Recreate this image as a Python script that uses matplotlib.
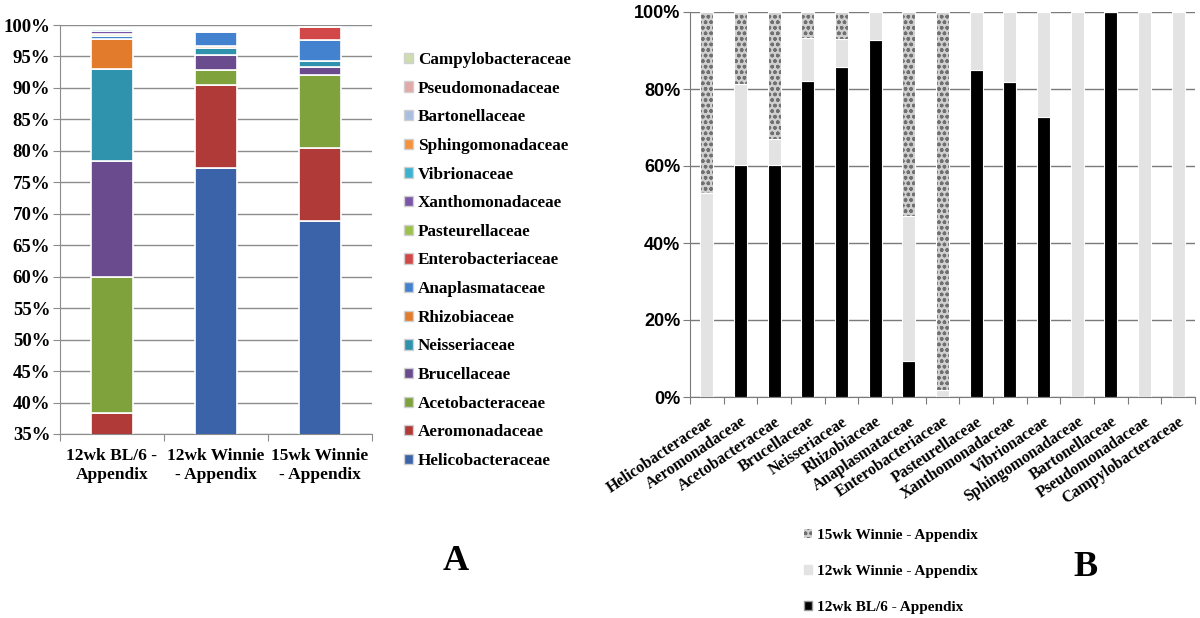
import matplotlib
matplotlib.use("Agg")
import matplotlib.pyplot as plt
import numpy as np
from matplotlib.patches import Patch

# ---------------- Panel A data ----------------
samples = ["12wk BL/6 -\nAppendix", "12wk Winnie\n- Appendix", "15wk Winnie\n- Appendix"]
families = ["Helicobacteraceae", "Aeromonadaceae", "Acetobacteraceae", "Brucellaceae",
            "Neisseriaceae", "Rhizobiaceae", "Anaplasmataceae", "Enterobacteriaceae",
            "Pasteurellaceae", "Xanthomonadaceae", "Vibrionaceae", "Sphingomonadaceae",
            "Bartonellaceae", "Pseudomonadaceae", "Campylobacteraceae"]
family_colors = ["#3A63AA", "#B03A37", "#7FA23C", "#694B8E", "#2F93AE", "#E27B2C",
                 "#4282CF", "#D24848", "#9DC24A", "#7A55A8", "#3BB3D0", "#F5923A",
                 "#A9BFDF", "#E3A8A8", "#CDDDB0"]
# percent abundance per family for each sample (BL/6, 12wk Winnie, 15wk Winnie)
abund_bl6 =    [0.0, 38.4, 21.6, 18.4, 14.6, 4.8, 0.4, 0.0, 0.4, 0.5, 0.2, 0.0, 0.1, 0.0, 0.0]
abund_w12 =    [77.2, 13.3, 2.4, 2.3, 1.1, 0.4, 2.2, 0.1, 0.1, 0.1, 0.1, 0.05, 0.0, 0.05, 0.05]
abund_w15 =    [68.8, 11.7, 11.5, 1.4, 0.9, 0.0, 3.3, 2.1, 0.0, 0.0, 0.0, 0.0, 0.0, 0.0, 0.0]
yticks_a = [35, 40, 45, 50, 55, 60, 65, 70, 75, 80, 85, 90, 95, 100]

# ---------------- Panel B data ----------------
fam_b = ["Helicobacteraceae", "Aeromonadaceae", "Acetobacteraceae", "Brucellaceae",
         "Neisseriaceae", "Rhizobiaceae", "Anaplasmataceae", "Enterobacteriaceae",
         "Pasteurellaceae", "Xanthomonadaceae", "Vibrionaceae", "Sphingomonadaceae",
         "Bartonellaceae", "Pseudomonadaceae", "Campylobacteraceae"]
share_bl6 = [0.0, 60.3, 60.3, 82.1, 85.7, 92.6, 9.4, 0.0, 85.0, 81.8, 72.6, 0.0, 100.0, 0.0, 0.0]
share_w12 = [53.0, 20.9, 6.8, 11.2, 7.4, 7.4, 37.7, 1.7, 15.0, 18.2, 27.4, 100.0, 0.0, 100.0, 100.0]
share_w15 = [47.0, 18.8, 32.9, 6.7, 6.9, 0.0, 52.9, 98.3, 0.0, 0.0, 0.0, 0.0, 0.0, 0.0, 0.0]
series_b = ["12wk BL/6 - Appendix", "12wk Winnie - Appendix", "15wk Winnie - Appendix"]
yticks_b = [0, 20, 40, 60, 80, 100]

SERIF = "Liberation Serif"
W, H = 1200, 618
fig = plt.figure(figsize=(12, 6.18), dpi=100)

def ax_rect(x0, y0, x1, y1):
    return [x0 / W, 1 - y1 / H, (x1 - x0) / W, (y1 - y0) / H]

# ================= Panel A =================
axA = fig.add_axes(ax_rect(60, 25, 372, 434))
data_a = np.array([abund_bl6, abund_w12, abund_w15])  # samples x families
x = np.arange(len(samples))
bottom = np.zeros(len(samples))
for j, fam in enumerate(families):
    vals = data_a[:, j]
    axA.bar(x, vals, 0.4, bottom=bottom, color=family_colors[j],
            edgecolor="white", linewidth=1.2, zorder=3, label=fam)
    bottom += vals
axA.set_ylim(35, 100)
axA.set_xlim(-0.5, 2.5)
axA.set_yticks(yticks_a)
axA.set_yticklabels([f"{v}%" for v in yticks_a], fontfamily=SERIF,
                    fontweight="bold", fontsize=13.5)
axA.yaxis.grid(True, color="#8c8c8c", linewidth=1.0, zorder=0)
axA.set_axisbelow(True)
axA.set_xticks([-0.5, 0.5, 1.5, 2.5])
axA.set_xticklabels([])
axA.set_xticks(x, minor=True)
axA.set_xticklabels(samples, minor=True, fontfamily=SERIF, fontweight="bold",
                    fontsize=12.5, linespacing=1.25)
axA.tick_params(axis="x", which="minor", length=0, pad=10)
axA.tick_params(axis="x", which="major", length=5, color="#8c8c8c", direction="out")
axA.tick_params(axis="y", length=5, color="#8c8c8c", pad=2)
for s in ["top", "right"]:
    axA.spines[s].set_visible(False)
axA.spines["left"].set_color("#8c8c8c")
axA.spines["bottom"].set_color("#8c8c8c")

handles = [Patch(facecolor=c, edgecolor="#d0d0d0", label=f)
           for f, c in zip(families, family_colors)]
fig.legend(handles[::-1], families[::-1], loc="upper left",
           bbox_to_anchor=(404 / W, 1 - 52 / H), frameon=False,
           prop={"family": SERIF, "weight": "bold", "size": 12.3},
           handlelength=0.55, handleheight=0.55, handletextpad=0.25,
           labelspacing=0.74, borderaxespad=0, borderpad=0)

fig.text(456 / W, 1 - 562 / H, "A", fontfamily=SERIF, fontweight="bold",
         fontsize=26, ha="center", va="center")

# ================= Panel B =================
axB = fig.add_axes(ax_rect(690, 12, 1195, 397))
xb = np.arange(len(fam_b))
bw = 0.39
b1 = np.array(share_bl6)
b2 = np.array(share_w12)
b3 = np.array(share_w15)
axB.bar(xb, b1, bw, color="black", edgecolor="white", linewidth=0.8, zorder=3)
axB.bar(xb, b2, bw, bottom=b1, color="#E3E3E3", edgecolor="white",
        linewidth=0.8, zorder=3)
plt.rcParams["hatch.linewidth"] = 1.0
axB.bar(xb, b3, bw, bottom=b1 + b2, color="#D0D0D0", edgecolor="#707070",
        hatch="ooo", linewidth=0, zorder=3)
axB.bar(xb, b3, bw, bottom=b1 + b2, color="none", edgecolor="white",
        linewidth=0.8, zorder=4)
axB.set_ylim(0, 100)
axB.set_xlim(-0.5, len(fam_b) - 0.5)
axB.set_yticks(yticks_b)
axB.set_yticklabels([f"{v}%" for v in yticks_b], fontfamily="Liberation Sans",
                    fontweight="bold", fontsize=13)
axB.yaxis.grid(True, color="#7a7a7a", linewidth=1.0, zorder=0)
axB.set_axisbelow(True)
axB.set_xticks(np.arange(-0.5, len(fam_b)), minor=False)
axB.set_xticklabels([])
axB.set_xticks(xb, minor=True)
axB.set_xticklabels(fam_b, minor=True, rotation=34, ha="right",
                    rotation_mode="anchor", fontfamily=SERIF, fontweight="bold",
                    fontsize=11.5)
axB.tick_params(axis="x", which="minor", length=0, pad=12)
axB.tick_params(axis="x", which="major", length=5, color="#7a7a7a")
axB.tick_params(axis="y", length=5, color="#7a7a7a", pad=2)
for s in ["top", "right"]:
    axB.spines[s].set_visible(False)
axB.spines["left"].set_color("#7a7a7a")
axB.spines["bottom"].set_color("#7a7a7a")

hb = [Patch(facecolor="#D0D0D0", edgecolor="#707070", hatch="ooo", linewidth=0),
      Patch(facecolor="#E3E3E3", edgecolor="#E3E3E3"),
      Patch(facecolor="black", edgecolor="#999999")]
fig.legend(hb, [series_b[2], series_b[1], series_b[0]], loc="upper left",
           bbox_to_anchor=(804 / W, 1 - 529 / H), frameon=False,
           prop={"family": SERIF, "weight": "bold", "size": 11},
           handlelength=0.55, handleheight=0.55, handletextpad=0.3,
           labelspacing=1.5, borderaxespad=0, borderpad=0)

fig.text(1086 / W, 1 - 568 / H, "B", fontfamily=SERIF, fontweight="bold",
         fontsize=26, ha="center", va="center")

fig.savefig("out.png", dpi=100, facecolor="white")
